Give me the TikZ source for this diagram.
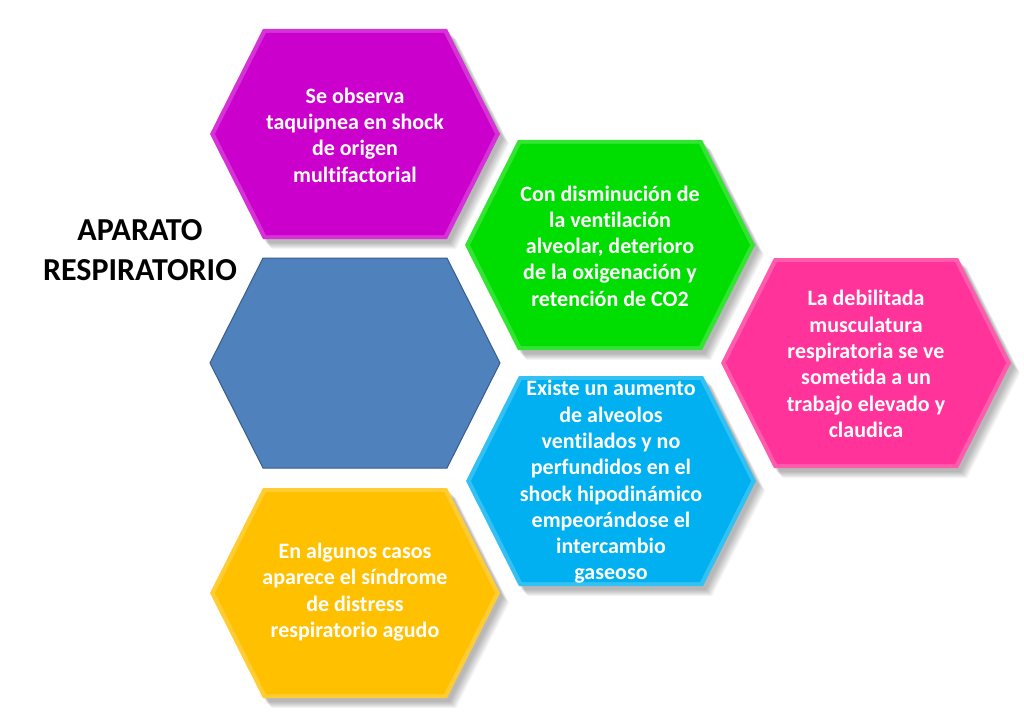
\documentclass[tikz,border=0pt]{standalone}
\usepackage{fontspec}
\setmainfont[Ligatures=CommonOff]{Carlito}
\definecolor{cmag}{HTML}{CC00CC}
\definecolor{cgreen}{HTML}{00DD00}
\definecolor{cpink}{HTML}{FF3399}
\definecolor{ccyan}{HTML}{00B0F0}
\definecolor{cyel}{HTML}{FFC000}
\definecolor{cblue}{HTML}{4F81BD}
\definecolor{cblueedge}{HTML}{385D8A}
\newcommand\hexshape{(-145,0) -- (-92,-105) -- (92,-105) -- (145,0) -- (92,105) -- (-92,105) -- cycle}
\newcommand\hexinner{(-140,0) -- (-89,-101) -- (89,-101) -- (140,0) -- (89,101) -- (-89,101) -- cycle}
\tikzset{
  hextext/.style={align=center, text=white, font=\bfseries\fontsize{22}{26.3}\selectfont, inner sep=0pt},
  titletext/.style={align=center, text=black, font=\bfseries\fontsize{32}{40}\selectfont, inner sep=0pt},
}
\newcommand\hexshadow[1]{%
  \foreach \i in {1,...,7}{%
    \fill[black, opacity=0.045, shift={(#1)}, shift={(2+\i,3+\i)}] \hexshape;}%
}
\newcommand\hexfill[2]{%
  \fill[#2!80!white, shift={(#1)}] \hexshape;
  \fill[#2, shift={(#1)}] \hexinner;
}
\begin{document}
\begin{tikzpicture}[x=1pt,y=-1pt]
\useasboundingbox (0,0) rectangle (1024,727);
\fill[white] (0,0) rectangle (1024,727);
% shadows
\hexshadow{355,134}
\hexshadow{610,245}
\hexshadow{866,363}
\hexshadow{611,481}
\hexshadow{355,593}
% hexagon bodies
\hexfill{355,134}{cmag}
\hexfill{610,245}{cgreen}
\hexfill{866,363}{cpink}
\hexfill{611,481}{ccyan}
\hexfill{355,593}{cyel}
\filldraw[fill=cblue, draw=cblueedge, line width=1pt, shift={(355,363)}] \hexshape;
% texts
\node[titletext] (title) at (140,250) {APARATO\\RESPIRATORIO};
\node[hextext] (mag) at (355,135) {Se observa\\taquipnea en shock\\de origen\\multifactorial};
\node[hextext] (green) at (610,246) {Con disminución de\\la ventilación\\alveolar, deterioro\\de la oxigenación y\\retención de CO2};
\node[hextext] (pink) at (866,364) {La debilitada\\musculatura\\respiratoria se ve\\sometida a un\\trabajo elevado y\\claudica};
\node[hextext] (cyan) at (611,482) {Existe un aumento\\de alveolos\\ventilados y no\\perfundidos en el\\shock hipodinámico\\empeorándose el\\intercambio\\gaseoso};
\node[hextext] (yel) at (355,592) {En algunos casos\\aparece el síndrome\\de distress\\respiratorio agudo};
\end{tikzpicture}
\end{document}
